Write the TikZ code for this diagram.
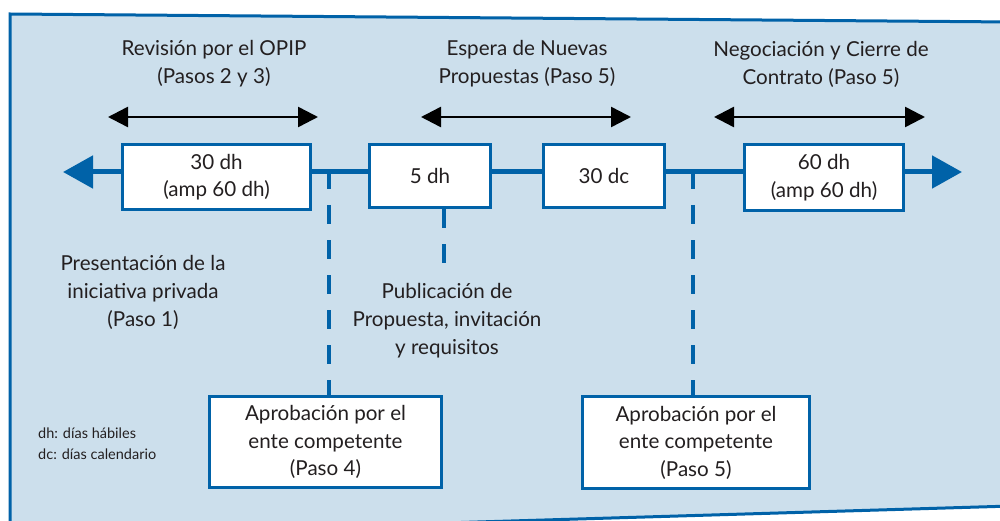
\documentclass[tikz,border=0pt]{standalone}
\usepackage{fontspec}
\setmainfont{Lato}
\usetikzlibrary{arrows.meta,calc}
\definecolor{panelfill}{HTML}{CCDFEC}
\definecolor{dblue}{HTML}{0062A8}
\definecolor{txt}{HTML}{231F20}
\begin{document}
\begin{tikzpicture}[x=1pt,y=-1pt,
  lbl/.style={align=center,text=txt,font=\fontsize{20.6}{28}\selectfont,inner sep=0pt},
  tbox/.style={draw=dblue,line width=3pt,fill=white,align=center,text=txt,
    font=\fontsize{20.6}{27.5}\selectfont,inner sep=0pt,anchor=north west},
  tline/.style={dblue,line width=5pt},
  dline/.style={dblue,line width=4pt,dash pattern=on 19pt off 16pt},
  span/.style={black,line width=2.5pt,{Triangle[length=20pt,width=20pt]}-{Triangle[length=20pt,width=20pt]}},
  small/.style={align=left,text=txt,font=\fontsize{14.5}{20.5}\selectfont,inner sep=0pt,anchor=north west}]
\useasboundingbox (0,0) rectangle (1000,521);
\clip (0,0) rectangle (1000,521);
\fill[white] (0,0) rectangle (1000,521);
\draw[fill=panelfill,draw=dblue,line width=3pt] (10,14) -- (1012,22) -- (1012,506) -- (10,536) -- cycle;

% top row boxes
\node[tbox,minimum width=188pt,minimum height=65pt] (b1) at (121,143) {30 dh\\(amp 60 dh)};
\node[tbox,minimum width=121pt,minimum height=63pt] (b2) at (368,143) {5 dh};
\node[tbox,minimum width=121pt,minimum height=63pt] (b3) at (542,143) {30 dc};
\node[tbox,minimum width=159pt,minimum height=66pt] (b4) at (743,143) {60 dh\\(amp 60 dh)};

% bottom boxes
\node[tbox,minimum width=232pt,minimum height=91pt] (b5) at (208,395) {Aprobación por el\\ente competente\\(Paso 4)};
\node[tbox,minimum width=227pt,minimum height=92pt] (b6) at (581,395) {Aprobación por el\\ente competente\\(Paso 5)};

% timeline
\coordinate (L) at (63,172);
\coordinate (R) at (962,172);
\draw[tline,-{Triangle[length=30pt,width=32pt]}] (b1.west |- L) -- (L);
\draw[tline,-{Triangle[length=30pt,width=32pt]}] (b4.east |- R) -- (R);
\draw[tline] (b1.east |- L) -- (b2.west |- L);
\draw[tline] (b2.east |- L) -- (b3.west |- L);
\draw[tline] (b3.east |- L) -- (b4.west |- L);

% dashed connectors
\coordinate (d1) at (329,170);
\coordinate (d3) at (693,170);
\coordinate (d2) at (444,271);
\draw[dline] (d1) -- (d1 |- b5.north);
\draw[dline] (d3) -- (d3 |- b6.north);
\draw[dline] (b2.south -| d2) -- (d2);

% span arrows
\coordinate (s1a) at (108,117); \coordinate (s1b) at (318,117);
\coordinate (s2a) at (421,117); \coordinate (s2b) at (631,117);
\coordinate (s3a) at (714,117); \coordinate (s3b) at (925,117);
\draw[span] (s1a) -- (s1b);
\draw[span] (s2a) -- (s2b);
\draw[span] (s3a) -- (s3b);

% labels
\node[lbl] (t1) at (214,64) {Revisión por el OPIP\\(Pasos 2 y 3)};
\node[lbl] (t2) at (527,64) {Espera de Nuevas\\Propuestas (Paso 5)};
\node[lbl] (t3) at (821,64) {Negociación y Cierre de\\Contrato (Paso 5)};
\node[lbl] (t4) at (143,292) {Presentación de la\\iniciativa privada\\(Paso 1)};
\node[lbl] (t5) at (447,321) {Publicación de\\Propuesta, invitación\\y requisitos};
\node[small] (leg) at (38,428) {dh: días hábiles\\dc: días calendario};
\end{tikzpicture}
\end{document}
